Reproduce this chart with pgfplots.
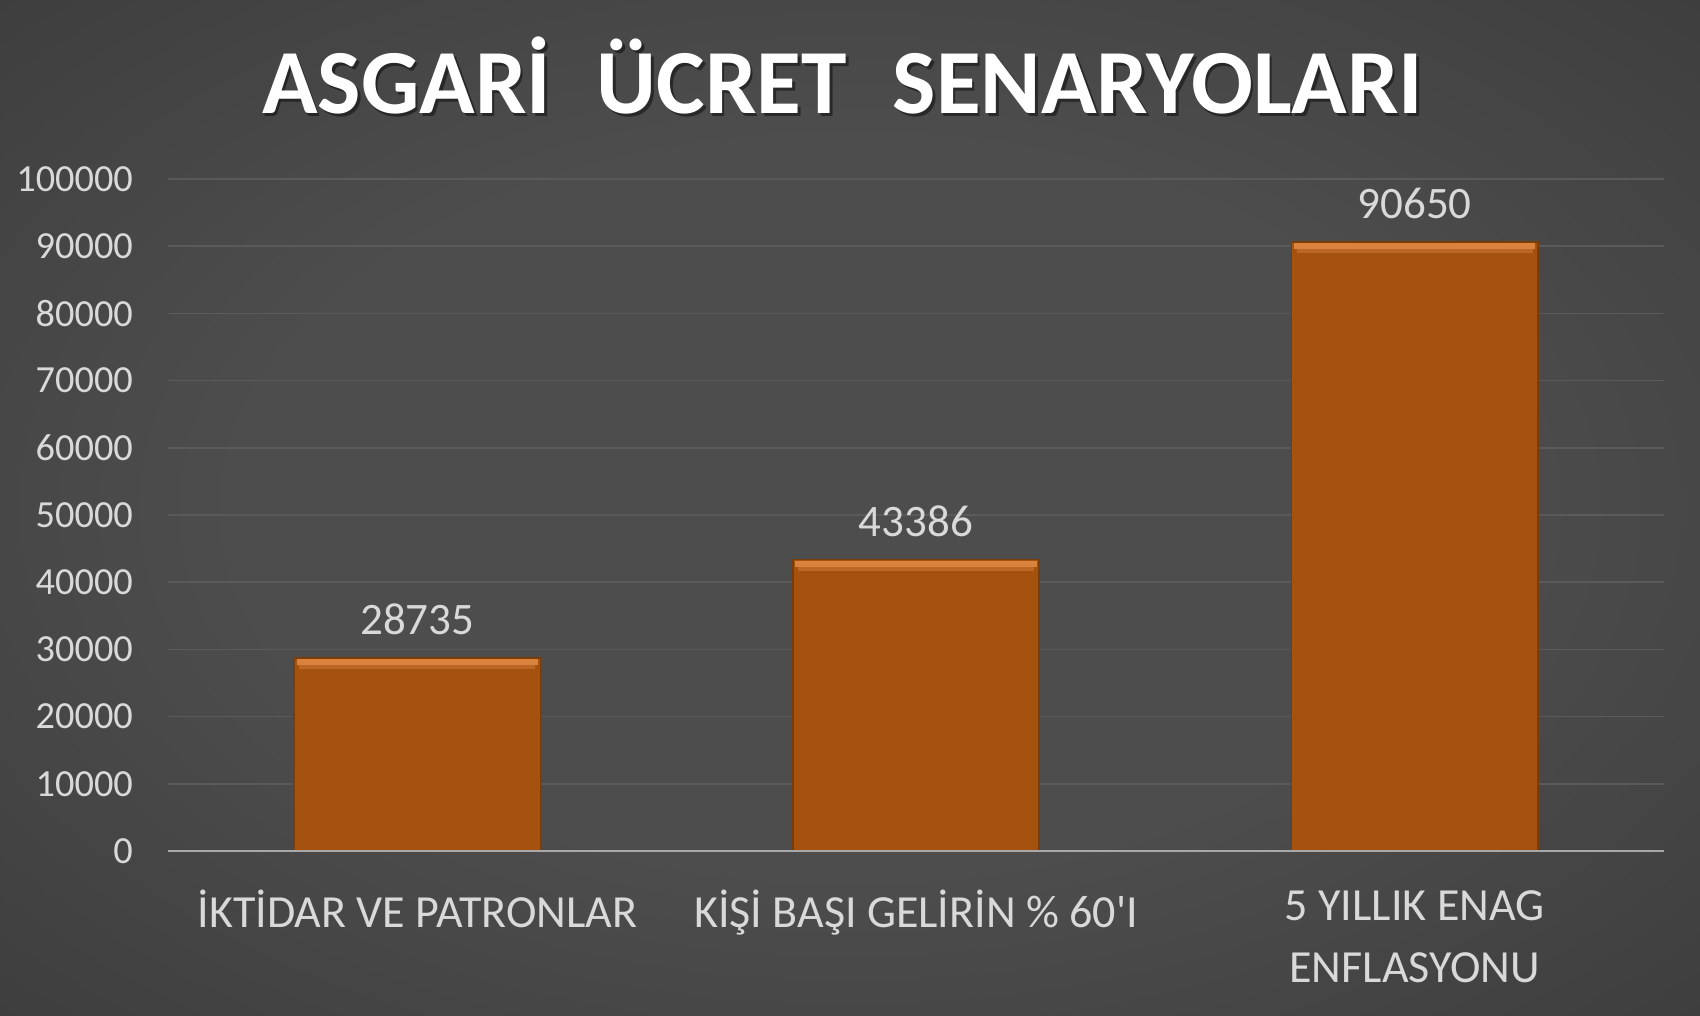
\documentclass[border=0pt]{standalone}
\usepackage{fontspec}
\setmainfont{Carlito}
\usepackage{pgfplots}
\pgfplotsset{compat=1.18}

\definecolor{bgInner}{HTML}{4D4D4D}
\definecolor{bgOuter}{HTML}{232323}
\definecolor{barFill}{HTML}{A5520E}
\definecolor{barTop}{HTML}{D9833E}
\definecolor{barEdge}{HTML}{7A3C08}
\definecolor{labelGray}{HTML}{D9D9D9}
\definecolor{gridGray}{HTML}{5A5A5A}
\definecolor{baseGray}{HTML}{A8A8A8}

\pgfdeclareradialshading{chartbg}{\pgfpoint{0bp}{0bp}}{%
  color(0bp)=(bgInner); color(18bp)=(bgInner);
  color(45bp)=(bgInner!45!bgOuter); color(72bp)=(bgOuter)}

\begin{document}
\begin{tikzpicture}
  % canvas and background
  \path[use as bounding box] (0,0) rectangle (510pt,304.5pt);
  \shade[shading=chartbg] (0,0) rectangle (510pt,304.5pt);

  % title with a soft drop shadow
  \node[black, opacity=0.45, font=\fontsize{27.5}{30}\selectfont\bfseries]
    at (253.6pt,280.9pt) {ASGARİ\hspace{0.5em}ÜCRET\hspace{0.5em}SENARYOLARI};
  \node[white, font=\fontsize{27.5}{30}\selectfont\bfseries]
    at (252.8pt,281.8pt) {ASGARİ\hspace{0.5em}ÜCRET\hspace{0.5em}SENARYOLARI};

  \begin{axis}[
    at={(50.4pt,49.2pt)}, anchor=south west,
    scale only axis, width=448.8pt, height=201.6pt,
    xmin=-0.5, xmax=2.5, ymin=0, ymax=100000,
    axis line style={draw=none},
    major tick length=0pt,
    ymajorgrids, grid style={gridGray, line width=0.45pt},
    ytick={0,10000,...,100000},
    xtick={0,1,2},
    xticklabels={İKTİDAR VE PATRONLAR, KİŞİ BAŞI GELİRİN \% 60\textquotesingle I, {5 YILLIK ENAG\\ENFLASYONU}},
    xticklabel style={labelGray, align=center, font=\fontsize{13.8}{18.6}\selectfont, yshift=-8.3pt},
    yticklabel style={labelGray, font=\fontsize{11.5}{13}\selectfont, xshift=-7pt},
    scaled y ticks=false,
    /pgf/number format/assume math mode=true,
    /pgf/number format/.cd, fixed, 1000 sep={},
  ]
    % bars
    \addplot[ybar, bar width=0.494, fill=barFill, draw=barEdge, line width=0.5pt,
      nodes near coords,
      every node near coord/.append style={labelGray, font=\fontsize{13.5}{16}\selectfont, yshift=3.3pt}]
      coordinates {(0,28735) (1,43386) (2,90650)};
    % bevel highlight along each bar top
    \addplot[only marks, mark=-, mark size=36.2pt, line width=1.8pt, color=barTop,
      mark options={yshift=-1.3pt}]
      coordinates {(0,28735) (1,43386) (2,90650)};
    \addplot[only marks, mark=-, mark size=35.4pt, line width=1.2pt, color=barTop!45!barFill,
      mark options={yshift=-2.8pt}]
      coordinates {(0,28735) (1,43386) (2,90650)};
    % baseline
    \draw[baseGray, line width=0.6pt] (axis cs:-0.5,0) -- (axis cs:2.5,0);
  \end{axis}
\end{tikzpicture}
\end{document}
